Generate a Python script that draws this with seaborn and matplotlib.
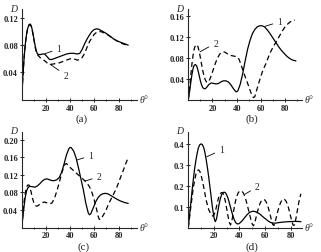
import matplotlib
matplotlib.use("Agg")
import matplotlib.pyplot as plt
import seaborn as sns
import pandas as pd

# ---------------- data ----------------
a1_x = [0, 1, 2, 3, 4, 5, 6, 7, 8, 9, 10, 11, 12, 13, 15, 17, 19, 21, 23, 25, 28, 31, 34, 37, 40, 43, 46, 48,
        50, 52, 54, 56, 58, 60, 62, 64, 66, 68, 70, 73, 76, 79, 82, 85, 88]
a1_y = [0, 0.035, 0.062, 0.082, 0.096, 0.105, 0.110, 0.111, 0.108, 0.100, 0.090, 0.080, 0.072, 0.067, 0.066,
        0.067, 0.067, 0.063, 0.059, 0.059, 0.061, 0.063, 0.065, 0.067, 0.068, 0.068, 0.067, 0.068,
        0.074, 0.082, 0.089, 0.095, 0.100, 0.103, 0.104, 0.103, 0.101, 0.099, 0.097, 0.093, 0.089, 0.086,
        0.084, 0.082, 0.080]
a2_x = [0, 1, 2, 3, 4, 5, 6, 7, 8, 9, 10, 11, 12, 13, 15, 17, 19, 21, 23, 25, 28, 31, 34, 37, 40, 43, 46, 48,
        50, 52, 54, 56, 58, 60, 62, 64, 66, 68, 70, 73, 76, 79, 82, 85, 88]
a2_y = [0, 0.035, 0.062, 0.082, 0.096, 0.105, 0.109, 0.110, 0.107, 0.099, 0.089, 0.078, 0.070, 0.066, 0.062,
        0.060, 0.057, 0.054, 0.052, 0.052, 0.053, 0.054, 0.056, 0.058, 0.060, 0.060, 0.058, 0.059,
        0.062, 0.068, 0.077, 0.085, 0.091, 0.096, 0.099, 0.100, 0.0995, 0.098, 0.096, 0.093, 0.089, 0.086,
        0.083, 0.081, 0.080]

b1_x = [0, 1, 2, 3, 4, 5, 6, 7, 8, 9, 10, 11, 12, 13, 14, 15, 17, 19, 21, 23, 25, 27, 29, 31, 33, 35, 37, 39,
        40, 41, 43, 45, 47, 49, 51, 53, 55, 57, 59, 61, 63, 65, 67, 69, 71, 73, 75, 77, 79, 81, 83, 85, 87, 89]
b1_y = [0, 0.015, 0.032, 0.048, 0.060, 0.066, 0.067, 0.064, 0.056, 0.046, 0.036, 0.028, 0.023, 0.021, 0.021,
        0.023, 0.029, 0.032, 0.031, 0.030, 0.031, 0.034, 0.036, 0.036, 0.034, 0.029, 0.022, 0.016,
        0.015, 0.017, 0.030, 0.050, 0.074, 0.096, 0.113, 0.126, 0.134, 0.139, 0.141, 0.141, 0.139, 0.134,
        0.128, 0.121, 0.114, 0.107, 0.100, 0.094, 0.089, 0.084, 0.080, 0.077, 0.075, 0.074]
b2_x = [0, 1, 2, 3, 4, 5, 6, 7, 8, 9, 10, 11, 12, 13, 14, 15, 16, 17, 18, 20, 22, 24, 26, 28, 30, 32, 34, 36,
        38, 40, 42, 44, 46, 48, 50, 52, 53, 54, 55, 56, 58, 60, 62, 64, 66, 68, 70, 72, 74, 76, 78, 80, 82,
        84, 86, 88]
b2_y = [0, 0.020, 0.045, 0.068, 0.086, 0.098, 0.104, 0.105, 0.101, 0.092, 0.080, 0.067, 0.055, 0.045, 0.038,
        0.034, 0.033, 0.035, 0.040, 0.053, 0.067, 0.079, 0.087, 0.091, 0.091, 0.088, 0.085, 0.084,
        0.083, 0.082, 0.077, 0.064, 0.050, 0.038, 0.025, 0.012, 0.006, 0.004, 0.006, 0.014, 0.030, 0.045,
        0.058, 0.068, 0.080, 0.091, 0.100, 0.108, 0.116, 0.124, 0.132, 0.139, 0.144, 0.148, 0.151, 0.152]

c1_x = [0, 1, 2, 3, 4, 5, 6, 7, 9, 11, 13, 15, 17, 19, 21, 23, 25, 27, 29, 31, 33, 35, 37, 39, 40, 41, 43, 45,
        47, 49, 51, 53, 55, 56, 57, 59, 61, 63, 65, 67, 69, 71, 73, 76, 79, 82, 85, 88]
c1_y = [0, 0.025, 0.050, 0.070, 0.083, 0.090, 0.093, 0.094, 0.093, 0.092, 0.095, 0.100, 0.106, 0.110, 0.111,
        0.109, 0.107, 0.107, 0.109, 0.114, 0.126, 0.145, 0.166, 0.180, 0.183, 0.182, 0.174, 0.158,
        0.135, 0.110, 0.085, 0.055, 0.033, 0.029, 0.031, 0.044, 0.058, 0.068, 0.074, 0.077, 0.078, 0.077,
        0.074, 0.069, 0.064, 0.060, 0.057, 0.055]
c2_x = [0, 1, 2, 3, 4, 5, 6, 7, 8, 9, 10, 11, 12, 13, 15, 17, 19, 21, 23, 25, 27, 29, 31, 33, 35, 36, 37, 38,
        40, 42, 44, 46, 48, 50, 52, 54, 56, 58, 60, 62, 63, 64, 65, 66, 68, 70, 72, 74, 76, 78, 80, 82, 84,
        86, 88]
c2_y = [0, 0.030, 0.060, 0.080, 0.092, 0.097, 0.097, 0.090, 0.078, 0.066, 0.057, 0.051, 0.049, 0.049, 0.053,
        0.057, 0.058, 0.056, 0.054, 0.056, 0.066, 0.083, 0.102, 0.124, 0.140, 0.145, 0.146, 0.143,
        0.137, 0.132, 0.127, 0.122, 0.117, 0.112, 0.107, 0.101, 0.093, 0.080, 0.062, 0.040, 0.027, 0.019,
        0.018, 0.022, 0.031, 0.042, 0.055, 0.066, 0.077, 0.088, 0.102, 0.117, 0.131, 0.146, 0.160]

d1_x = [0, 1, 2, 3, 4, 5, 6, 7, 8, 9, 10, 11, 12, 13, 14, 15, 16, 17, 18, 19, 20, 21, 22, 23, 24, 25, 26, 27,
        28, 29, 30, 31, 32, 33, 34, 35, 36, 37, 38, 39, 40, 42, 44, 46, 48, 50, 52, 54, 56, 58, 60, 62, 64,
        66, 68, 70, 74, 78, 82, 86, 88]
d1_y = [0, 0.06, 0.12, 0.18, 0.235, 0.285, 0.325, 0.36, 0.385, 0.398, 0.402, 0.398, 0.385, 0.36, 0.325,
        0.285, 0.24, 0.19, 0.14, 0.09, 0.05, 0.028, 0.04, 0.075, 0.11, 0.138, 0.157, 0.167,
        0.170, 0.167, 0.157, 0.141, 0.12, 0.097, 0.074, 0.053, 0.036, 0.024, 0.018, 0.017, 0.020, 0.032,
        0.047, 0.062, 0.073, 0.078, 0.077, 0.072, 0.064, 0.053, 0.043, 0.033, 0.025, 0.021, 0.021, 0.023,
        0.026, 0.028, 0.029, 0.029, 0.028]
d2_x = [0, 2, 4, 6, 7, 8, 9, 10, 12, 14, 16, 18, 19, 20, 21, 22, 23, 24, 25, 26, 27, 28, 29, 30, 31, 32, 33,
        34, 35, 36, 37, 38, 39, 40, 41, 42, 43, 44, 45, 46, 47, 48, 49, 50, 51, 52, 53, 54, 55, 56, 57, 58,
        59, 60, 61, 62, 63, 64, 65, 66, 67, 68, 69, 70, 71, 72, 73, 74, 75, 76, 77, 78, 79, 80, 81, 82, 83,
        84, 85, 86, 87, 88]
d2_y = [0, 0.10, 0.195, 0.258, 0.273, 0.277, 0.270, 0.252, 0.195, 0.13, 0.085, 0.06, 0.055, 0.06, 0.075,
        0.10, 0.128, 0.150, 0.163, 0.168, 0.165, 0.150, 0.125, 0.09, 0.055, 0.025, 0.012,
        0.03, 0.065, 0.10, 0.130, 0.152, 0.167, 0.174, 0.176, 0.174, 0.166, 0.152, 0.133, 0.110, 0.085,
        0.060, 0.036, 0.016, 0.008, 0.025, 0.05, 0.075, 0.097, 0.115, 0.127, 0.134,
        0.135, 0.131, 0.121, 0.105, 0.084, 0.060, 0.035, 0.014, 0.01, 0.03, 0.055, 0.08, 0.101, 0.118,
        0.130, 0.136, 0.136, 0.13, 0.118, 0.10, 0.078, 0.052, 0.027, 0.01, 0.012,
        0.04, 0.075, 0.11, 0.14, 0.162]

panel_labels = ["(a)", "(b)", "(c)", "(d)"]
a_yticks = [0.04, 0.08, 0.12]
b_yticks = [0.04, 0.08, 0.12, 0.16]
c_yticks = [0.04, 0.08, 0.12, 0.16, 0.20]
d_yticks = [0.1, 0.2, 0.3, 0.4]
xticks = [20, 40, 60, 80]

# ---------------- style ----------------
sns.set_style("ticks")
plt.rcParams["font.family"] = ["Liberation Serif", "DejaVu Serif"]

W, H = 321, 253
fig = plt.figure(figsize=(W / 100, H / 100), dpi=100)


def box(l, r, top, bot):
    return [l / W, (H - bot) / H, (r - l) / W, (bot - top) / H]


panels = [
    dict(pos=box(21.7, 136.7, 10, 100.7), xlim=95, ylim=0.133, yt=a_yticks, fmt="{:.2f}",
         s1=(a1_x, a1_y), s2=(a2_x, a2_y),
         l1=((28.9, 0.0748), (19.3, 0.0675)), l2=((34.4, 0.036), (23.4, 0.052)),
         lab=(81.7, 119.3)),
    dict(pos=box(188.3, 302, 10, 100.7), xlim=94, ylim=0.173, yt=b_yticks, fmt="{:.2f}",
         s1=(b1_x, b1_y), s2=(b2_x, b2_y),
         l1=((73.6, 0.1486), (63.4, 0.140)), l2=((20.7, 0.108), (9.7, 0.0914)),
         lab=(251.7, 119.3)),
    dict(pos=box(21.7, 136.7, 133, 228.5), xlim=95, ylim=0.218, yt=c_yticks, fmt="{:.2f}",
         s1=(c1_x, c1_y), s2=(c2_x, c2_y),
         l1=((55.1, 0.164), (45.5, 0.154)), l2=((62.0, 0.116), (52.3, 0.106)),
         lab=(83.3, 246.7)),
    dict(pos=box(188.3, 301.7, 133, 228.5), xlim=88.6, ylim=0.459, yt=d_yticks, fmt="{:.1f}",
         s1=(d1_x, d1_y), s2=(d2_x, d2_y),
         l1=((24.2, 0.373), (14.4, 0.34)), l2=((52.1, 0.196), (44.3, 0.16)),
         lab=(251.7, 246.7)),
]

for p, lab in zip(panels, panel_labels):
    ax = fig.add_axes(p["pos"])
    df1 = pd.DataFrame({"x": p["s1"][0], "y": p["s1"][1]})
    df2 = pd.DataFrame({"x": p["s2"][0], "y": p["s2"][1]})
    sns.lineplot(data=df1, x="x", y="y", ax=ax, color="black", linewidth=0.9, sort=False)
    sns.lineplot(data=df2, x="x", y="y", ax=ax, color="black", linewidth=0.9, sort=False,
                 dashes=False, linestyle=(0, (4, 2.6)))
    ax.set_xlabel("")
    ax.set_ylabel("")
    for s in ["top", "right"]:
        ax.spines[s].set_visible(False)
    for s in ["left", "bottom"]:
        ax.spines[s].set_linewidth(0.8)
    ax.set_xticks(xticks)
    ax.set_xticks([10, 30, 50, 70, 90] if p["xlim"] > 90 else [10, 30, 50, 70], minor=True)
    ax.set_yticks(p["yt"])
    ax.set_yticklabels([p["fmt"].format(v) for v in p["yt"]], fontweight="bold")
    ax.set_xticklabels([str(v) for v in xticks], fontweight="bold")
    ax.set_xlim(0, p["xlim"])
    ax.set_ylim(0, p["ylim"])
    ax.tick_params(axis="both", which="major", direction="inout", length=2.5, width=0.7,
                   labelsize=6, pad=1.5)
    ax.tick_params(axis="x", which="minor", direction="inout", length=1.5, width=0.6)
    # curve labels with leader lines
    (tx, ty), (px, py) = p["l1"]
    ax.annotate("1", xy=(px, py), xytext=(tx, ty), fontsize=7, ha="left", va="center",
                arrowprops=dict(arrowstyle="-", lw=0.6, color="black", shrinkA=1, shrinkB=0))
    (tx, ty), (px, py) = p["l2"]
    ax.annotate("2", xy=(px, py), xytext=(tx, ty), fontsize=7, ha="left", va="center",
                arrowprops=dict(arrowstyle="-", lw=0.6, color="black", shrinkA=1, shrinkB=0))
    # axis names
    l, b, w, h = p["pos"]
    fig.text(l - 8.5 / W, b + h + 1 / H, "D", fontsize=7, style="italic", ha="center", va="center")
    fig.text(l + w + 7 / W, b, "θ°", fontsize=7, style="italic", ha="center", va="center")
    fig.text(p["lab"][0] / W, 1 - p["lab"][1] / H, lab, fontsize=8, ha="center", va="center")

fig.savefig("out.png", dpi=100)
